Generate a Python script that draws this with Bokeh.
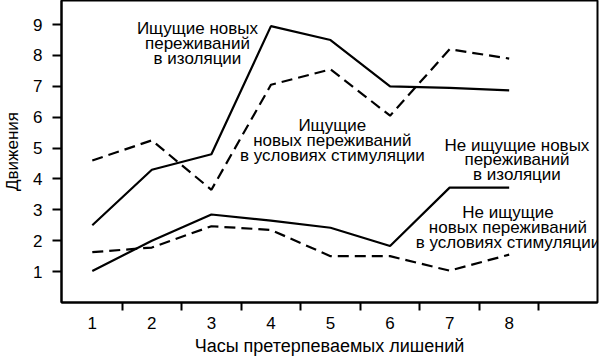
from bokeh.plotting import figure
from bokeh.models import FixedTicker, Range1d, Label
from bokeh.embed import file_html
from bokeh.resources import INLINE

# ---- data ----
hours = [1, 2, 3, 4, 5, 6, 7, 8]
seek_isolation = [2.5, 4.3, 4.8, 8.95, 8.5, 7.0, 6.95, 6.87]
seek_stimulation = [4.6, 5.25, 3.65, 7.05, 7.55, 6.05, 8.2, 7.9]
noseek_isolation = [1.02, 2.0, 2.85, 2.65, 2.42, 1.83, 3.72, 3.72]
noseek_stimulation = [1.63, 1.78, 2.47, 2.35, 1.5, 1.5, 1.03, 1.55]

y_ticks = [1, 2, 3, 4, 5, 6, 7, 8, 9]
x_label = "Часы претерпеваемых лишений"
y_label = "Движения"

labels_seek_iso = ["Ищущие новых", "переживаний", "в изоляции"]
labels_seek_stim = ["Ищущие", "новых переживаний", "в условиях стимуляции"]
labels_noseek_iso = ["Не ищущие новых", "переживаний", "в изоляции"]
labels_noseek_stim = ["Не ищущие", "новых переживаний", "в условиях стимуляции"]

FONT = "Liberation Sans"

p = figure(width=600, height=361, output_backend="svg", toolbar_location=None,
           x_range=Range1d(0.483, 9.483), y_range=Range1d(0, 9.78),
           min_border_left=57, min_border_right=3, min_border_top=0, min_border_bottom=59)

p.xgrid.visible = False
p.ygrid.visible = False
p.outline_line_color = "black"
p.outline_line_width = 2
p.background_fill_color = "white"
p.border_fill_color = "white"

# x axis: labels at integer hours, ticks between them
p.xaxis.ticker = FixedTicker(ticks=hours, minor_ticks=[h + 0.5 for h in hours])
p.xaxis.major_tick_out = 0
p.xaxis.major_tick_in = 0
p.xaxis.minor_tick_out = 8
p.xaxis.minor_tick_in = 0
p.xaxis.minor_tick_line_width = 2
p.xaxis.minor_tick_line_color = "black"
p.xaxis.major_label_standoff = 6
p.xaxis.axis_label = x_label
p.xaxis.axis_label_standoff = 4
p.xaxis.axis_label_text_font_size = "18px"
p.xaxis.axis_label_text_baseline = "middle"

p.yaxis.ticker = FixedTicker(ticks=y_ticks, minor_ticks=[])
p.yaxis.major_tick_out = 9
p.yaxis.major_tick_in = 0
p.yaxis.major_tick_line_width = 2
p.yaxis.major_label_standoff = 10
p.yaxis.axis_label = y_label
p.yaxis.axis_label_standoff = 8
p.yaxis.axis_label_text_font_size = "17px"

for ax in (p.xaxis, p.yaxis):
    ax.axis_line_width = 2
    ax.axis_line_color = "black"
    ax.major_tick_line_color = "black"
    ax.major_label_text_font = FONT
    ax.major_label_text_font_size = "17px"
    ax.major_label_text_color = "black"
    ax.axis_label_text_font = FONT
    ax.axis_label_text_font_style = "normal"
    ax.axis_label_text_color = "black"

dash = "11 6"
p.line(hours, seek_isolation, line_color="black", line_width=2.2)
p.line(hours, seek_stimulation, line_color="black", line_width=2.2, line_dash=dash)
p.line(hours, noseek_isolation, line_color="black", line_width=2.2)
p.line(hours, noseek_stimulation, line_color="black", line_width=2.2, line_dash=dash)

# label anchors (data units): center x, first-line y
groups = [
    (labels_seek_iso, 2.766, 8.87),
    (labels_seek_stim, 5.03, 5.74),
    (labels_noseek_iso, 8.13, 5.10),
    (labels_noseek_stim, 7.98, 2.92),
]
step = 0.485
for lines, cx, y0 in groups:
    for i, t in enumerate(lines):
        p.add_layout(Label(x=cx, y=y0 - i * step, text=t, text_align="center",
                           text_baseline="middle", text_font=FONT,
                           text_font_size="17px", text_color="black"))

open("out.html", "w").write(file_html(p, INLINE))
